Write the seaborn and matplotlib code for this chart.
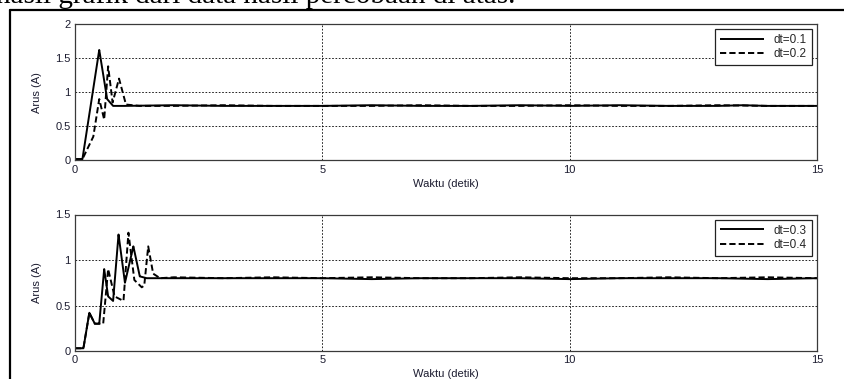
import numpy as np
import matplotlib
matplotlib.use("Agg")
import matplotlib.pyplot as plt
import pandas as pd
import seaborn as sns
from matplotlib.lines import Line2D

# data: time (s) and current (A)
t_01 = [0, 0.15, 0.49, 0.65, 0.77, 1.0, 2, 3, 4, 5, 6, 7, 8, 9, 10, 11, 12, 13, 13.5, 14, 15]
arus_01 = [0.02, 0.02, 1.62, 0.90, 0.80, 0.80, 0.81, 0.80, 0.80, 0.80, 0.81, 0.80, 0.80,
           0.81, 0.80, 0.81, 0.80, 0.80, 0.81, 0.80, 0.80]

t_02 = [0, 0.15, 0.37, 0.49, 0.59, 0.67, 0.76, 0.89, 1.03, 1.3, 2, 3, 4, 5, 6, 7, 8, 9,
        10, 11, 12, 13, 14, 15]
arus_02 = [0.02, 0.02, 0.35, 0.90, 0.60, 1.38, 0.85, 1.20, 0.82, 0.80, 0.80, 0.81, 0.80,
           0.80, 0.80, 0.81, 0.80, 0.80, 0.81, 0.80, 0.80, 0.81, 0.80, 0.80]

t_03 = [0, 0.17, 0.29, 0.40, 0.49, 0.59, 0.67, 0.77, 0.88, 1.01, 1.18, 1.31, 1.45, 2, 3,
        4, 5, 6, 7, 8, 9, 10, 11, 12, 13, 14, 15]
arus_03 = [0.03, 0.03, 0.42, 0.30, 0.30, 0.90, 0.60, 0.55, 1.28, 0.75, 1.15, 0.82, 0.80,
           0.80, 0.80, 0.80, 0.80, 0.79, 0.80, 0.80, 0.80, 0.79, 0.80, 0.80, 0.80, 0.79, 0.80]

t_04 = [0, 0.17, 0.29, 0.40, 0.57, 0.67, 0.80, 0.98, 1.08, 1.20, 1.35, 1.40, 1.48, 1.58,
        1.72, 2, 3, 4, 5, 6, 7, 8, 9, 10, 11, 12, 13, 14, 15]
arus_04 = [0.03, 0.03, 0.42, 0.30, 0.30, 0.90, 0.60, 0.55, 1.30, 0.78, 0.70, 0.72, 1.15,
           0.85, 0.80, 0.81, 0.80, 0.81, 0.80, 0.81, 0.80, 0.80, 0.81, 0.80, 0.80, 0.81,
           0.80, 0.81, 0.80]

panels = [
    (["dt=0.1", "dt=0.2"], [t_01, t_02], [arus_01, arus_02], 2.0, [0, 0.5, 1, 1.5, 2]),
    (["dt=0.3", "dt=0.4"], [t_03, t_04], [arus_03, arus_04], 1.5, [0, 0.5, 1, 1.5]),
]

sns.set_style("white")
plt.rcParams["font.family"] = ["Liberation Sans", "DejaVu Sans"]

W, H = 845, 379
fig = plt.figure(figsize=(W / 100, H / 100), dpi=100)

boxes = [(75, 24, 817, 160.5), (75, 214.5, 817, 351)]
txt = "#1c1c30"

for (labels, ts, ys, ymax, yticks), (x0, y0, x1, y1) in zip(panels, boxes):
    ax = fig.add_axes([x0 / W, 1 - y1 / H, (x1 - x0) / W, (y1 - y0) / H])
    df = pd.concat([pd.DataFrame({"t": t, "arus": a, "dt": lab})
                    for lab, t, a in zip(labels, ts, ys)])
    sns.lineplot(data=df, x="t", y="arus", style="dt", dashes=[(1, 0), (3.2, 1.6)],
                 color="black", linewidth=1.4, ax=ax, legend=True)
    ax.set_xlim(0, 15)
    ax.set_ylim(0, ymax)
    ax.set_xticks([0, 5, 10, 15])
    ax.set_yticks(yticks)
    ax.set_xticklabels(["0", "5", "10", "15"])
    ax.set_yticklabels([f"{v:g}" for v in yticks])
    ax.tick_params(length=0, labelsize=8, pad=3, colors=txt)
    ax.grid(True, color="black", linestyle=(0, (2, 2)), linewidth=0.6)
    for s in ax.spines.values():
        s.set_color("#3a3a3a")
        s.set_linewidth(0.9)
    ax.set_xlabel("Waktu (detik)", fontsize=8, labelpad=3, color=txt)
    ax.set_ylabel("Arus (A)", fontsize=8, labelpad=10, color=txt)
    leg = ax.legend(loc="upper right", fontsize=8.5, fancybox=False, framealpha=1,
                    edgecolor="#222222", handlelength=3.8, borderaxespad=0.45,
                    labelspacing=0.2, borderpad=0.4, handletextpad=0.8)
    leg.get_frame().set_linewidth(0.9)

# page border of the figure box and the cut-off sentence above it
fig.add_artist(Line2D([10.5 / W, 1], [1 - 10 / H, 1 - 10 / H], color="black",
                      linewidth=1.6, transform=fig.transFigure))
fig.add_artist(Line2D([10.5 / W, 10.5 / W], [0, 1 - 10 / H], color="black",
                      linewidth=1.6, transform=fig.transFigure))
fig.text(-4 / W, 1 - 3 / H, "hasil grafik dari data hasil percobaan di atas.",
         fontsize=21, family=["Liberation Serif", "DejaVu Serif"], ha="left",
         va="baseline", color="black")

fig.savefig("out.png", dpi=100)
